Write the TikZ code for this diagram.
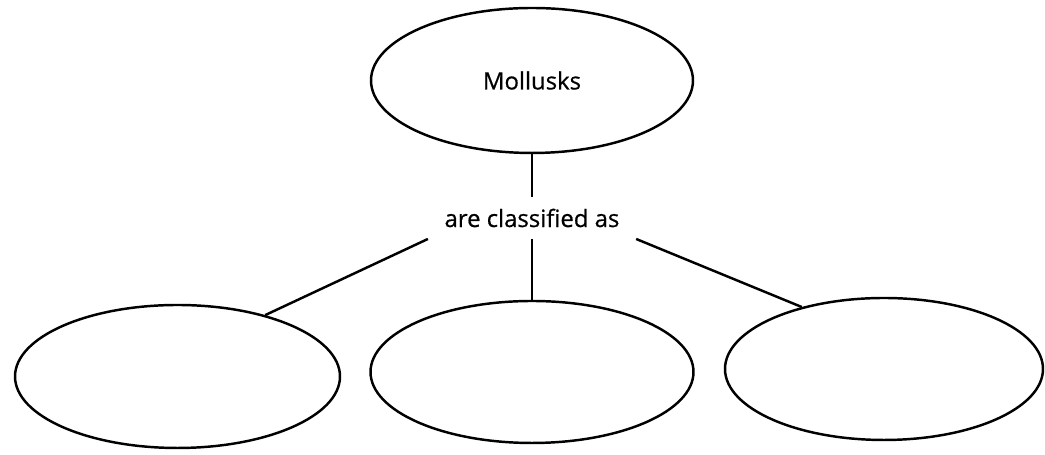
\documentclass[tikz,border=0pt]{standalone}
\usepackage{fontspec}
\setmainfont{Open Sans}[FakeBold=0.6]
\usetikzlibrary{shapes.geometric}

\begin{document}
\begin{tikzpicture}[scale=0.1]
\tikzstyle{every node}+=[inner sep=0pt, font=\fontsize{6.8}{8}\selectfont]
\tikzstyle{bubble}=[draw=black, ellipse, line width=0.7pt]
\useasboundingbox (0,0) rectangle (104.5,-45.5);
\node [bubble, minimum width=32.2mm, minimum height=14.5mm] (M) at (53.2,-8.05) {Mollusks};
\node [inner xsep=1.6mm, inner ysep=1.1mm] (C) at (53.2,-21.8) {are classified as};
\node [bubble, minimum width=32.5mm, minimum height=14.3mm] (L) at (17.75,-37.65) {};
\node [bubble, minimum width=32.3mm, minimum height=14.2mm] (B) at (53.2,-37.2) {};
\node [bubble, minimum width=31.8mm, minimum height=14.2mm] (R) at (88.4,-36.9) {};
\draw [black, line width=0.7pt] (M.south) -- (C.north);
\draw [black, line width=0.7pt] (C.south) -- (B.north);
\draw [black, line width=0.7pt] (C.south west) -- (L.35);
\draw [black, line width=0.7pt] (C.south east) -- (R.143);
\end{tikzpicture}
\end{document}
